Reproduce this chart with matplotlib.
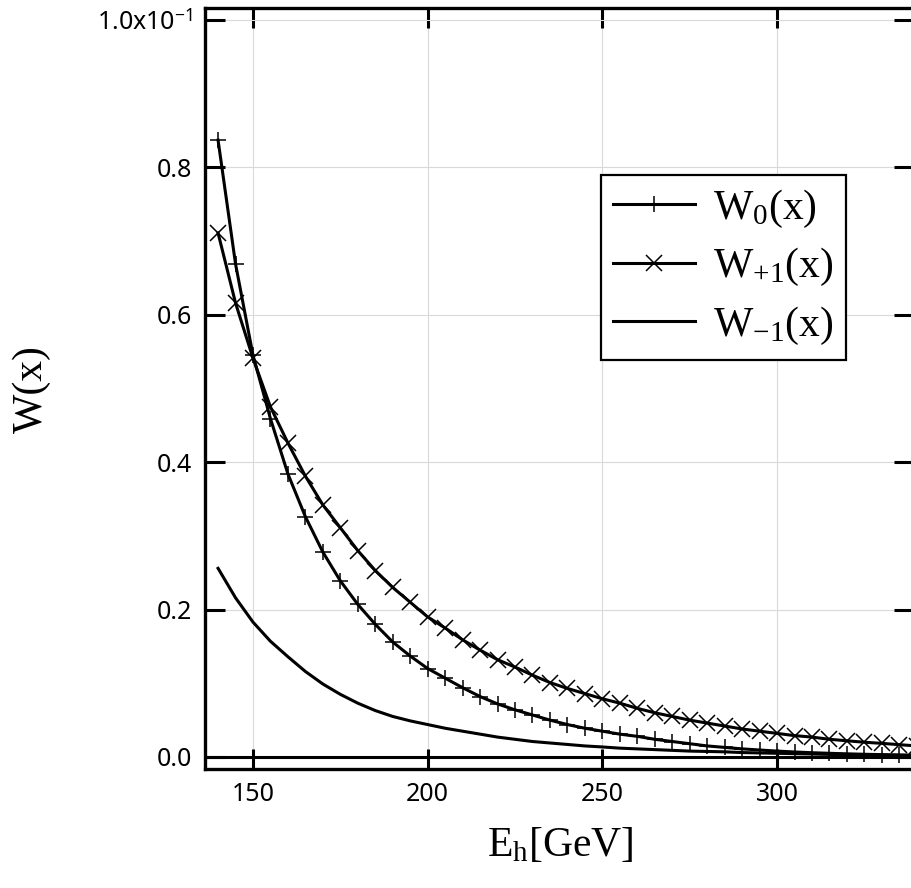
import matplotlib
matplotlib.use("Agg")
import matplotlib.pyplot as plt
from matplotlib.ticker import FixedLocator, FuncFormatter

plt.rcParams['mathtext.fontset'] = 'custom'
plt.rcParams['mathtext.rm'] = 'Liberation Serif'
plt.rcParams['mathtext.it'] = 'Liberation Serif:italic'
plt.rcParams['mathtext.sf'] = 'Noto Sans'

# Energy grid (GeV)
energy = [140, 145, 150, 155, 160, 165, 170, 175, 180, 185, 190, 195, 200,
          205, 210, 215, 220, 225, 230, 235, 240, 245, 250, 255, 260, 265,
          270, 275, 280, 285, 290, 295, 300, 305, 310, 315, 320, 325, 330,
          335, 340]

# Values in units of 1e-1
w0 = [0.837, 0.669, 0.545, 0.459, 0.384, 0.326, 0.278, 0.239, 0.207, 0.180,
      0.156, 0.137, 0.120, 0.107, 0.094, 0.082, 0.072, 0.064, 0.057, 0.050,
      0.044, 0.039, 0.035, 0.031, 0.028, 0.024, 0.021, 0.018, 0.015, 0.013,
      0.011, 0.0095, 0.008, 0.0068, 0.0058, 0.005, 0.0043, 0.0037, 0.0032,
      0.0028, 0.0024]
w_plus1 = [0.711, 0.616, 0.541, 0.475, 0.426, 0.381, 0.342, 0.311, 0.280,
           0.253, 0.230, 0.210, 0.190, 0.175, 0.159, 0.145, 0.132, 0.122,
           0.111, 0.101, 0.093, 0.086, 0.079, 0.073, 0.066, 0.060, 0.055,
           0.050, 0.046, 0.042, 0.038, 0.035, 0.032, 0.029, 0.027, 0.024,
           0.022, 0.020, 0.0185, 0.0167, 0.015]
w_minus1 = [0.256, 0.216, 0.183, 0.157, 0.136, 0.116, 0.099, 0.085, 0.073,
            0.063, 0.055, 0.049, 0.044, 0.039, 0.035, 0.031, 0.027, 0.024,
            0.021, 0.019, 0.017, 0.015, 0.0136, 0.012, 0.011, 0.010, 0.009,
            0.008, 0.0075, 0.007, 0.006, 0.0055, 0.005, 0.0045, 0.004,
            0.0035, 0.003, 0.0028, 0.0025, 0.0022, 0.002]

labels = [r'W$_{0}$(x)', r'W$_{+1}$(x)', r'W$_{-1}$(x)']
xticks = [150, 200, 250, 300]
yticks = [0.0, 0.2, 0.4, 0.6, 0.8, 1.0]

fig = plt.figure(figsize=(9.11, 8.88), dpi=100)
ax = fig.add_axes([205/911, 1-769/888, (914-205)/911, (769-8)/888])

lw = 2.2
ax.plot(energy, w0, color='black', lw=lw, marker='+', ms=11.5, mew=1.1,
        label=labels[0], zorder=3)
ax.plot(energy, w_plus1, color='black', lw=lw, marker='x', ms=11.5, mew=1.1,
        label=labels[1], zorder=3)
ax.plot(energy, w_minus1, color='black', lw=lw, label=labels[2], zorder=3)
ax.axhline(0, color='black', lw=2.2, zorder=2)

ax.set_xlim(136.26, 339.2)
ax.set_ylim(-0.0163, 1.0163)

ax.xaxis.set_major_locator(FixedLocator(xticks))
ax.yaxis.set_major_locator(FixedLocator(yticks))

def yfmt(v, pos):
    if abs(v - 1.0) < 1e-9:
        return r'1.0x10$^{\mathsf{-1}}$'
    return f'{v:.1f}'

ax.yaxis.set_major_formatter(FuncFormatter(yfmt))
ax.xaxis.set_major_formatter(FuncFormatter(lambda v, p: f'{v:.0f}'))

ax.grid(True, color='#d9d9d9', lw=0.8, zorder=0)
ax.set_axisbelow(True)

ax.tick_params(axis='both', which='major', direction='in', length=14.5,
               width=2.2, top=True, right=True, labelsize=18, pad=9)
for lab in ax.get_xticklabels() + ax.get_yticklabels():
    lab.set_family('Noto Sans')

for sp in ax.spines.values():
    sp.set_linewidth(2.4)

fig.text(560/911, 1-856/888, r'E$_{\mathrm{h}}$[GeV]', family='Liberation Serif',
         fontsize=30, ha='center', va='baseline')
fig.text(32/911, 1-389/888, 'W(x)', family='Liberation Serif', fontsize=30,
         rotation=90, ha='center', va='center')

leg = ax.legend(loc='upper right', bbox_to_anchor=(846/911, 1-175/888),
                bbox_transform=fig.transFigure, borderaxespad=0,
                prop={'family': 'Liberation Serif', 'size': 30},
                frameon=True, fancybox=False, edgecolor='black',
                framealpha=1, handlelength=1.95, handletextpad=0.45,
                labelspacing=0.4, borderpad=0.3)
leg.get_frame().set_linewidth(1.6)

fig.savefig('out.png', dpi=100)
